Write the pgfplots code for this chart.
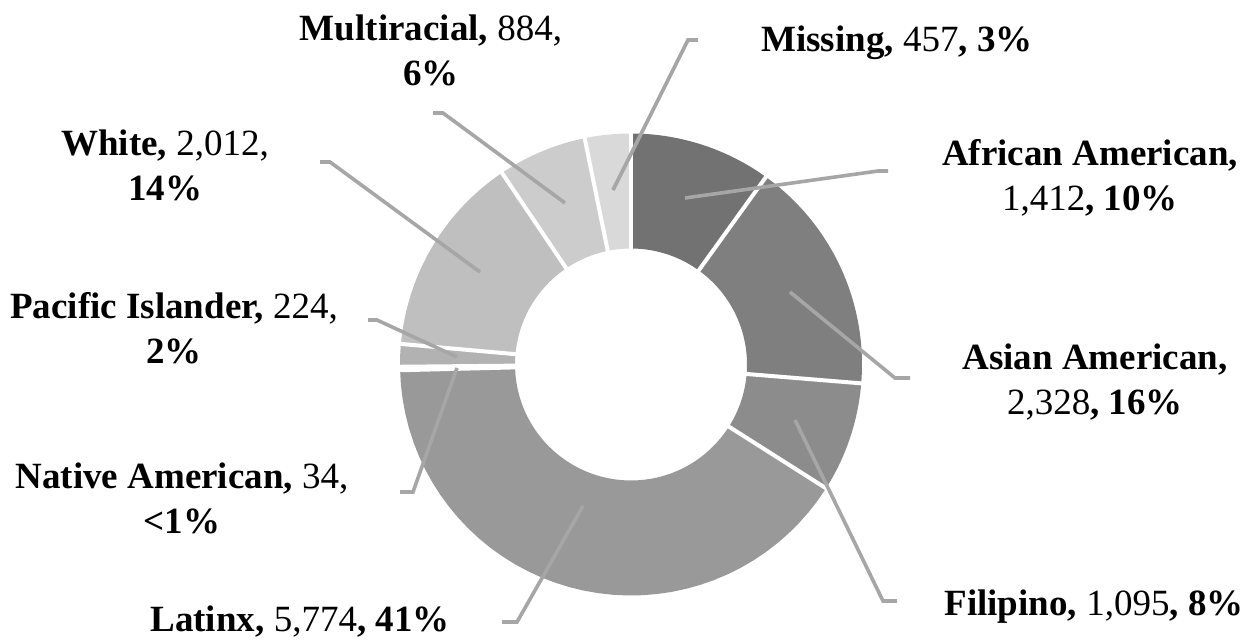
\documentclass[border=0pt]{standalone}
\usepackage{pgfplots}
\pgfplotsset{compat=1.18}
\usepackage{pgfplotstable}
\usepackage{fontspec}
\setmainfont{Liberation Serif}
\definecolor{c0}{HTML}{727272}
\definecolor{c1}{HTML}{7F7F7F}
\definecolor{c2}{HTML}{8C8C8C}
\definecolor{c3}{HTML}{999999}
\definecolor{c4}{HTML}{A5A5A5}
\definecolor{c5}{HTML}{B2B2B2}
\definecolor{c6}{HTML}{BFBFBF}
\definecolor{c7}{HTML}{CCCCCC}
\definecolor{c8}{HTML}{D9D9D9}
\definecolor{leader}{HTML}{A6A6A6}

\pgfplotstableread{
group value
AfricanAmerican 1412
AsianAmerican 2328
Filipino 1095
Latinx 5774
NativeAmerican 34
PacificIslander 224
White 2012
Multiracial 884
Missing 457
}\donut

\pgfplotstablegetrowsof{\donut}
\pgfmathtruncatemacro\lastrow{\pgfplotsretval-1}
\xdef\total{0}
\foreach \i in {0,...,\lastrow}{%
  \pgfplotstablegetelem{\i}{value}\of\donut
  \pgfmathsetmacro\tmp{\total+\pgfplotsretval}%
  \xdef\total{\tmp}%
}
\xdef\cum{0}
\xdef\prevang{90}
\foreach \i in {0,...,\lastrow}{%
  \pgfplotstablegetelem{\i}{value}\of\donut
  \pgfmathsetmacro\tmp{\cum+\pgfplotsretval}%
  \xdef\cum{\tmp}%
  \pgfmathsetmacro\a{90-(\cum/\total)*360}%
  \expandafter\xdef\csname s\i\endcsname{\prevang}%
  \expandafter\xdef\csname e\i\endcsname{\a}%
  \xdef\prevang{\a}%
}
\def\cx{631}
\def\cy{364.5}
\def\Ro{231}
\def\Ri{116}

\begin{document}
\begin{tikzpicture}
\begin{axis}[name=ax,
  scale only axis, width=629pt, height=321.5pt,
  xmin=0, xmax=1258, ymin=0, ymax=643, y dir=reverse,
  hide axis, clip=false]
\pgfplotsinvokeforeach{0,...,8}{%
  \edef\sa{\csname s#1\endcsname}%
  \edef\ea{\csname e#1\endcsname}%
  \addplot[draw=none, fill=c#1, variable=\t, samples at={0,...,81}]
    ({\cx+ifthenelse(\t<40.5, \Ro*cos(\sa+(\ea-\sa)*\t/40), \Ri*cos(\ea-(\ea-\sa)*(\t-41)/40))},
     {\cy-ifthenelse(\t<40.5, \Ro*sin(\sa+(\ea-\sa)*\t/40), \Ri*sin(\ea-(\ea-\sa)*(\t-41)/40))});
}
\pgfplotsinvokeforeach{0,...,8}{%
  \edef\sa{\csname s#1\endcsname}%
  \addplot[white, line width=2pt, domain=110:236, samples=2]
    ({\cx+x*cos(\sa)},{\cy-x*sin(\sa)});
}
% leader lines
\tikzset{ld/.style={leader, line width=1.8pt}}
\draw[ld] (axis cs:698,40) -- (axis cs:688,40) -- (axis cs:613,190);
\draw[ld] (axis cs:888,171) -- (axis cs:878,171) -- (axis cs:685,198);
\draw[ld] (axis cs:790,292) -- (axis cs:895,378) -- (axis cs:910,378);
\draw[ld] (axis cs:795,420) -- (axis cs:883,601) -- (axis cs:897,601);
\draw[ld] (axis cs:583,506) -- (axis cs:517,622) -- (axis cs:502,622);
\draw[ld] (axis cs:457,368) -- (axis cs:413,492) -- (axis cs:400,492);
\draw[ld] (axis cs:368,320) -- (axis cs:377,320) -- (axis cs:457,357);
\draw[ld] (axis cs:320,162) -- (axis cs:330,162) -- (axis cs:480,272);
\draw[ld] (axis cs:433,113) -- (axis cs:443,113) -- (axis cs:565,203);
% labels
\tikzset{lab/.style={font=\fontsize{18.5}{22.5}\selectfont, align=center, inner sep=0pt}}
\node[lab] at (axis cs:431,50) {\textbf{Multiracial,} 884,\\\textbf{6\%}};
\node[lab] at (axis cs:897,43) {\textbf{Missing,} 457\textbf{, 3\%}};
\node[lab] at (axis cs:1090,178) {\textbf{African American,}\\1,412\textbf{, 10\%}};
\node[lab] at (axis cs:1095,382) {\textbf{Asian American,}\\2,328\textbf{, 16\%}};
\node[lab] at (axis cs:1094,607) {\textbf{Filipino,} 1,095\textbf{, 8\%}};
\node[lab] at (axis cs:300,622) {\textbf{Latinx,} 5,774\textbf{, 41\%}};
\node[lab] at (axis cs:182,498) {\textbf{Native American,} 34,\\\textbf{<1\%}};
\node[lab] at (axis cs:174,328) {\textbf{Pacific Islander,} 224,\\\textbf{2\%}};
\node[lab] at (axis cs:165,165) {\textbf{White,} 2,012,\\\textbf{14\%}};
\end{axis}
\pgfresetboundingbox
\path[use as bounding box] (ax.south west) rectangle (ax.north east);
\end{tikzpicture}
\end{document}
